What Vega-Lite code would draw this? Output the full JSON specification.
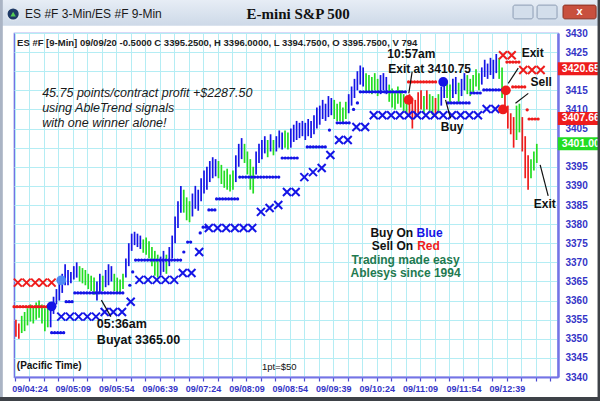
{
"$schema": "https://vega.github.io/schema/vega-lite/v6.json",
"width": 544, "height": 344,
"autosize": "none",
"padding": {"left": 14, "top": 33, "right": 42, "bottom": 24},
"background": "white",
"config": {"view": {"stroke": "#6464e0", "strokeWidth": 1.2}, "font": "Liberation Sans", "axis": {"labelOverlap": false}},
"datasets": {
"bars": [
{"t":250,"h":3355,"l":3350.5,"c":"r"},{"t":253,"h":3354,"l":3350,"c":"r"},{"t":256,"h":3356,"l":3351.5,"c":"g"},{"t":259,"h":3357,"l":3352,"c":"g"},
{"t":262,"h":3358,"l":3353.5,"c":"g"},{"t":265,"h":3359,"l":3354.5,"c":"g"},{"t":268,"h":3358.5,"l":3354,"c":"g"},{"t":271,"h":3359.5,"l":3355,"c":"g"},
{"t":274,"h":3360,"l":3355.5,"c":"g"},{"t":277,"h":3359,"l":3354,"c":"g"},{"t":280,"h":3358,"l":3352,"c":"g"},{"t":283,"h":3358.5,"l":3353,"c":"g"},
{"t":286,"h":3359,"l":3353,"c":"b"},{"t":289,"h":3361,"l":3356.5,"c":"b"},{"t":292,"h":3363,"l":3359,"c":"b"},{"t":295,"h":3364.5,"l":3360,"c":"b"},
{"t":298,"h":3367,"l":3362,"c":"b"},{"t":301,"h":3369.5,"l":3364,"c":"b"},{"t":304,"h":3368,"l":3364,"c":"b"},{"t":307,"h":3367.5,"l":3364.5,"c":"b"},
{"t":310,"h":3369,"l":3365.5,"c":"b"},{"t":313,"h":3370,"l":3366,"c":"b"},{"t":316,"h":3369,"l":3365,"c":"g"},{"t":319,"h":3368.5,"l":3364.5,"c":"g"},
{"t":322,"h":3368,"l":3364,"c":"g"},{"t":325,"h":3367,"l":3363,"c":"g"},{"t":328,"h":3366.5,"l":3362.5,"c":"g"},{"t":331,"h":3366,"l":3361.5,"c":"g"},
{"t":334,"h":3365,"l":3360,"c":"b"},{"t":337,"h":3367,"l":3362,"c":"b"},{"t":340,"h":3366.5,"l":3362.5,"c":"g"},{"t":343,"h":3368,"l":3363.5,"c":"b"},
{"t":346,"h":3369.5,"l":3364,"c":"b"},{"t":349,"h":3369,"l":3365,"c":"b"},{"t":352,"h":3367,"l":3362.5,"c":"g"},{"t":355,"h":3366,"l":3362,"c":"g"},
{"t":358,"h":3365.5,"l":3362,"c":"g"},{"t":361,"h":3367,"l":3363,"c":"g"},{"t":364,"h":3371,"l":3366,"c":"b"},{"t":367,"h":3375,"l":3369,"c":"b"},
{"t":370,"h":3377.5,"l":3373,"c":"b"},{"t":373,"h":3378,"l":3374.5,"c":"b"},{"t":376,"h":3377.5,"l":3374,"c":"b"},{"t":379,"h":3377,"l":3373.5,"c":"b"},
{"t":382,"h":3376,"l":3372.5,"c":"g"},{"t":385,"h":3376.5,"l":3372,"c":"g"},{"t":388,"h":3375.5,"l":3371,"c":"g"},{"t":391,"h":3374,"l":3369,"c":"g"},
{"t":394,"h":3373,"l":3366.5,"c":"g"},{"t":397,"h":3372,"l":3366,"c":"g"},{"t":400,"h":3371.5,"l":3366.5,"c":"b"},{"t":403,"h":3373,"l":3367.5,"c":"b"},
{"t":406,"h":3372,"l":3367,"c":"g"},{"t":409,"h":3374,"l":3369,"c":"b"},{"t":412,"h":3377,"l":3371,"c":"b"},{"t":415,"h":3382,"l":3375,"c":"b"},
{"t":418,"h":3386,"l":3379,"c":"b"},{"t":421,"h":3390,"l":3383,"c":"b"},{"t":424,"h":3389,"l":3383,"c":"g"},{"t":427,"h":3387,"l":3381,"c":"g"},
{"t":430,"h":3386,"l":3380.5,"c":"g"},{"t":433,"h":3388,"l":3382,"c":"b"},{"t":436,"h":3390,"l":3384,"c":"b"},{"t":439,"h":3389,"l":3383.5,"c":"b"},
{"t":442,"h":3392,"l":3386,"c":"b"},{"t":445,"h":3394,"l":3388,"c":"b"},{"t":448,"h":3395,"l":3389,"c":"b"},{"t":451,"h":3396.5,"l":3391,"c":"b"},
{"t":454,"h":3397.5,"l":3392,"c":"b"},{"t":457,"h":3397,"l":3392.5,"c":"b"},{"t":460,"h":3396.5,"l":3392,"c":"g"},{"t":463,"h":3395.5,"l":3390.5,"c":"g"},
{"t":466,"h":3394,"l":3389.5,"c":"g"},{"t":469,"h":3394.5,"l":3389,"c":"g"},{"t":472,"h":3393,"l":3388.5,"c":"g"},{"t":475,"h":3394,"l":3389,"c":"g"},
{"t":478,"h":3398,"l":3391,"c":"b"},{"t":481,"h":3401,"l":3395,"c":"b"},{"t":484,"h":3402.5,"l":3397,"c":"b"},{"t":487,"h":3401,"l":3396,"c":"g"},
{"t":490,"h":3399,"l":3393,"c":"g"},{"t":493,"h":3397,"l":3389,"c":"g"},{"t":496,"h":3395,"l":3388,"c":"g"},{"t":499,"h":3399,"l":3393,"c":"b"},
{"t":502,"h":3401,"l":3396,"c":"b"},{"t":505,"h":3402,"l":3397,"c":"b"},{"t":508,"h":3403,"l":3398.5,"c":"b"},{"t":511,"h":3402,"l":3397.5,"c":"g"},
{"t":514,"h":3403.5,"l":3399,"c":"b"},{"t":517,"h":3402,"l":3398,"c":"g"},{"t":520,"h":3403,"l":3399,"c":"b"},{"t":523,"h":3404.5,"l":3400,"c":"b"},
{"t":526,"h":3404,"l":3399.5,"c":"b"},{"t":529,"h":3404.5,"l":3400,"c":"g"},{"t":532,"h":3404,"l":3399.5,"c":"g"},{"t":535,"h":3405,"l":3400,"c":"b"},
{"t":538,"h":3406,"l":3401.5,"c":"b"},{"t":541,"h":3407,"l":3402,"c":"b"},{"t":544,"h":3406.5,"l":3402.5,"c":"b"},{"t":547,"h":3407,"l":3403,"c":"b"},
{"t":550,"h":3406.5,"l":3402,"c":"b"},{"t":553,"h":3407.5,"l":3403,"c":"b"},{"t":556,"h":3407,"l":3402.5,"c":"b"},{"t":559,"h":3408.5,"l":3403.5,"c":"b"},
{"t":562,"h":3410.5,"l":3405,"c":"b"},{"t":565,"h":3411,"l":3406,"c":"b"},{"t":568,"h":3412.5,"l":3407.5,"c":"b"},{"t":571,"h":3411.5,"l":3407,"c":"b"},
{"t":574,"h":3413.5,"l":3408,"c":"b"},{"t":577,"h":3413,"l":3408.5,"c":"b"},{"t":580,"h":3412.5,"l":3407.5,"c":"g"},{"t":583,"h":3411.5,"l":3407,"c":"g"},
{"t":586,"h":3412,"l":3407,"c":"g"},{"t":589,"h":3410.5,"l":3406.5,"c":"g"},{"t":592,"h":3412,"l":3407.5,"c":"g"},{"t":595,"h":3414,"l":3409,"c":"b"},
{"t":598,"h":3416,"l":3411,"c":"b"},{"t":601,"h":3418,"l":3413,"c":"b"},{"t":604,"h":3420,"l":3415,"c":"b"},{"t":607,"h":3421.5,"l":3416.5,"c":"b"},
{"t":610,"h":3421,"l":3416,"c":"b"},{"t":613,"h":3419.5,"l":3414.5,"c":"g"},{"t":616,"h":3419,"l":3414.5,"c":"g"},{"t":619,"h":3418.5,"l":3414,"c":"g"},
{"t":622,"h":3419.5,"l":3415,"c":"g"},{"t":625,"h":3418,"l":3413.5,"c":"g"},{"t":628,"h":3419,"l":3414,"c":"b"},{"t":631,"h":3419.5,"l":3415,"c":"b"},
{"t":634,"h":3418.5,"l":3414,"c":"b"},{"t":637,"h":3416.5,"l":3412,"c":"g"},{"t":640,"h":3415.5,"l":3410.5,"c":"g"},{"t":643,"h":3414.5,"l":3410,"c":"g"},
{"t":646,"h":3416,"l":3411.5,"c":"g"},{"t":649,"h":3415,"l":3410.5,"c":"g"},{"t":652,"h":3414,"l":3409.5,"c":"g"},{"t":655,"h":3413,"l":3409,"c":"g"},
{"t":658,"h":3414,"l":3408,"c":"r"},{"t":661,"h":3413,"l":3405,"c":"r"},{"t":664,"h":3412.5,"l":3408,"c":"r"},{"t":667,"h":3414.5,"l":3409,"c":"r"},
{"t":670,"h":3415,"l":3410,"c":"r"},{"t":673,"h":3413.5,"l":3409,"c":"g"},{"t":676,"h":3415,"l":3410,"c":"r"},{"t":679,"h":3414,"l":3409.5,"c":"g"},
{"t":682,"h":3413.5,"l":3408.5,"c":"g"},{"t":685,"h":3413,"l":3408,"c":"r"},{"t":688,"h":3414,"l":3409,"c":"g"},{"t":691,"h":3416,"l":3411,"c":"b"},
{"t":694,"h":3418,"l":3413,"c":"b"},{"t":697,"h":3417.5,"l":3413,"c":"g"},{"t":700,"h":3416.5,"l":3411.5,"c":"g"},{"t":703,"h":3418,"l":3413,"c":"b"},
{"t":706,"h":3418.5,"l":3414,"c":"b"},{"t":709,"h":3417,"l":3412,"c":"g"},{"t":712,"h":3418,"l":3413.5,"c":"b"},{"t":715,"h":3419.5,"l":3415,"c":"b"},
{"t":718,"h":3419,"l":3414,"c":"g"},{"t":721,"h":3418,"l":3413.5,"c":"g"},{"t":724,"h":3419,"l":3414.5,"c":"g"},{"t":727,"h":3420.5,"l":3416,"c":"g"},
{"t":730,"h":3419.5,"l":3415,"c":"g"},{"t":733,"h":3421,"l":3416.5,"c":"b"},{"t":736,"h":3423,"l":3418.5,"c":"b"},{"t":739,"h":3422,"l":3418,"c":"b"},
{"t":742,"h":3423.5,"l":3419,"c":"b"},{"t":745,"h":3423,"l":3418,"c":"b"},{"t":748,"h":3424.5,"l":3419.5,"c":"b"},{"t":751,"h":3423.5,"l":3418,"c":"g"},
{"t":754,"h":3421,"l":3413,"c":"g"},{"t":757,"h":3416,"l":3409.5,"c":"r"},{"t":760,"h":3411,"l":3405,"c":"r"},{"t":763,"h":3409,"l":3403.5,"c":"r"},
{"t":766,"h":3408,"l":3400,"c":"r"},{"t":769,"h":3411,"l":3402,"c":"g"},{"t":772,"h":3411.5,"l":3404,"c":"g"},{"t":775,"h":3408,"l":3399,"c":"r"},
{"t":778,"h":3403,"l":3392,"c":"r"},{"t":781,"h":3398,"l":3389,"c":"r"},{"t":784,"h":3397,"l":3392,"c":"g"},{"t":787,"h":3399,"l":3394,"c":"g"},
{"t":790,"h":3401,"l":3396,"c":"g"}
],
"stops": [
{"t1":248,"t2":286,"p":3358.4,"c":"r"},{"t1":287,"t2":300,"p":3351.6,"c":"b"},{"t1":302,"t2":310,"p":3359.7,"c":"b"},{"t1":311,"t2":362,"p":3362,"c":"b"},
{"t1":368,"t2":369,"p":3364,"c":"b"},{"t1":371,"t2":372,"p":3367.5,"c":"b"},{"t1":374,"t2":421,"p":3370.6,"c":"b"},{"t1":424,"t2":425,"p":3372.7,"c":"b"},
{"t1":428,"t2":433,"p":3375.3,"c":"b"},{"t1":441,"t2":442,"p":3377.7,"c":"b"},{"t1":444,"t2":449,"p":3379.2,"c":"b"},{"t1":450,"t2":457,"p":3383.7,"c":"b"},
{"t1":458,"t2":481,"p":3386.6,"c":"b"},{"t1":482,"t2":524,"p":3392.3,"c":"b"},{"t1":526,"t2":544,"p":3397.3,"c":"b"},{"t1":552,"t2":571,"p":3400.2,"c":"b"},
{"t1":575,"t2":576,"p":3404.6,"c":"b"},{"t1":583,"t2":598,"p":3406.5,"c":"b"},{"t1":600,"t2":601,"p":3410,"c":"b"},{"t1":604,"t2":605,"p":3411.7,"c":"b"},
{"t1":607,"t2":656,"p":3414.6,"c":"b"},{"t1":657,"t2":687,"p":3417.2,"c":"r"},{"t1":698,"t2":721,"p":3411.7,"c":"b"},{"t1":722,"t2":734,"p":3414.3,"c":"b"},
{"t1":735,"t2":759,"p":3415.1,"c":"b"},{"t1":759,"t2":773,"p":3422.4,"c":"r"},{"t1":765,"t2":779,"p":3415.9,"c":"r"},{"t1":780,"t2":781,"p":3409.9,"c":"r"},
{"t1":782,"t2":793,"p":3407.5,"c":"r"}
],
"xs": [
{"t":252,"p":3364.7,"c":"r"},{"t":261,"p":3364.7,"c":"r"},{"t":270,"p":3364.7,"c":"r"},{"t":278,"p":3364.7,"c":"r"},{"t":287,"p":3364.7,"c":"r"},
{"t":297,"p":3355.8,"c":"b"},{"t":306,"p":3355.8,"c":"b"},{"t":315,"p":3355.8,"c":"b"},{"t":324,"p":3355.8,"c":"b"},{"t":333,"p":3355.8,"c":"b"},
{"t":342,"p":3357,"c":"b"},{"t":351,"p":3357,"c":"b"},{"t":360,"p":3357,"c":"b"},{"t":369,"p":3359.7,"c":"b"},
{"t":378,"p":3365.4,"c":"b"},{"t":387,"p":3365.4,"c":"b"},{"t":396,"p":3365.4,"c":"b"},{"t":405,"p":3365.4,"c":"b"},{"t":414,"p":3365.4,"c":"b"},
{"t":423,"p":3367.2,"c":"b"},{"t":432,"p":3367.2,"c":"b"},{"t":440,"p":3372.7,"c":"b"},
{"t":450,"p":3379,"c":"b"},{"t":459,"p":3379,"c":"b"},{"t":468,"p":3379,"c":"b"},{"t":477,"p":3379,"c":"b"},{"t":486,"p":3379,"c":"b"},{"t":495,"p":3379,"c":"b"},
{"t":504,"p":3383.2,"c":"b"},{"t":513,"p":3384.2,"c":"b"},{"t":522,"p":3385,"c":"b"},{"t":531,"p":3388.4,"c":"b"},{"t":540,"p":3388.4,"c":"b"},
{"t":549,"p":3392.3,"c":"b"},{"t":558,"p":3393.6,"c":"b"},{"t":567,"p":3394.7,"c":"b"},{"t":576,"p":3398.1,"c":"b"},
{"t":585,"p":3402,"c":"b"},{"t":594,"p":3402,"c":"b"},{"t":603,"p":3405.4,"c":"b"},{"t":612,"p":3405.4,"c":"b"},
{"t":621,"p":3408.5,"c":"b"},{"t":630,"p":3408.5,"c":"b"},{"t":639,"p":3408.5,"c":"b"},{"t":648,"p":3408.5,"c":"b"},{"t":657,"p":3408.5,"c":"b"},
{"t":666,"p":3408.5,"c":"b"},{"t":675,"p":3408.5,"c":"b"},{"t":684,"p":3408.5,"c":"b"},{"t":693,"p":3408.5,"c":"b"},{"t":702,"p":3408.5,"c":"b"},
{"t":711,"p":3408.5,"c":"b"},{"t":720,"p":3408.5,"c":"b"},{"t":729,"p":3408.5,"c":"b"},{"t":738,"p":3410.1,"c":"b"},{"t":747,"p":3410.1,"c":"b"},
{"t":755,"p":3424.2,"c":"r"},{"t":764,"p":3424.2,"c":"r"},{"t":776,"p":3420.3,"c":"r"},{"t":785,"p":3420.3,"c":"r"},{"t":794,"p":3420.3,"c":"r"}
],
"sigs": [
{"t":287,"p":3358.5,"c":"b"},{"t":297,"p":3365.3,"c":"lb"},{"t":657,"p":3412.5,"c":"r"},{"t":693,"p":3417.2,"c":"b"},{"t":758,"p":3415,"c":"r"},{"t":755,"p":3410,"c":"r"}
],
"arrows": [
{"t1":660.8,"p1":3419.9,"t2":657.3,"p2":3414.2},{"t1":700.6,"p1":3407.7,"t2":695.4,"p2":3412.5},{"t1":781.2,"p1":3414.2,"t2":767.9,"p2":3411.6},
{"t1":770.8,"p1":3420.8,"t2":760.4,"p2":3416.8},{"t1":801.8,"p1":3387.4,"t2":793.5,"p2":3395.5},{"t1":348.4,"p1":3355.8,"t2":338.6,"p2":3360.1}
],
"notes": [
{"g":"hdr","t":251.2,"p":3427.3,"s":"ES #F [9-Min] 09/09/20  -0.5000 C 3395.2500, H 3396.0000, L 3394.7500, O 3395.7500, V 794"},
{"g":"it","t":277.2,"p":3414.4,"s":"45.75 points/contract profit +$2287.50"},
{"g":"it","t":277.2,"p":3410.3,"s":"using AbleTrend signals"},
{"g":"it","t":277.2,"p":3406.5,"s":"with one winner alone!"},
{"g":"bc","t":660,"p":3424.4,"s":"10:57am"},
{"g":"bc","t":678.9,"p":3420.7,"s":"Exit at 3410.75"},
{"g":"bc","t":785.7,"p":3424.8,"s":"Exit"},
{"g":"bc","t":794.6,"p":3417.3,"s":"Sell"},
{"g":"bc","t":702.3,"p":3405.4,"s":"Buy"},
{"g":"bc","t":798.3,"p":3385.3,"s":"Exit"},
{"g":"bl","t":333.9,"p":3353.9,"s":"05:36am"},
{"g":"bl","t":333.9,"p":3349.7,"s":"Buyat 3365.00"},
{"g":"br","t":661.8,"p":3377.75,"s":"Buy On"},
{"g":"br","t":661.8,"p":3374.3,"s":"Sell On"},
{"g":"bcol","t":665.4,"p":3377.75,"s":"Blue","c":"b"},
{"g":"bcol","t":666,"p":3374.3,"s":"Red","c":"r"},
{"g":"gr","t":654,"p":3370.6,"s":"Trading made easy"},
{"g":"gr","t":654,"p":3367.2,"s":"Ablesys since 1994"},
{"g":"pt","t":250.9,"p":3343,"s":"(Pacific Time)"},
{"g":"sm","t":523,"p":3342.6,"s":"1pt=$50"}
],
"tags": [
{"p":3420.65,"s":"3420.65","c":"r"},{"p":3407.66,"s":"3407.66","c":"r"},{"p":3401.0,"s":"3401.00","c":"g"}
]
},
"layer": [
{"data": {"name": "bars"},
 "mark": {"type": "rule", "strokeWidth": 1.7},
 "encoding": {
  "x": {"field": "t", "type": "quantitative", "scale": {"domain": [248, 812], "nice": false, "zero": false},
   "axis": {"title": null, "tickCount": 500, "values": [249,264,279,294,309,324,339,354,369,384,399,414,429,444,459,474,489,504,519,534,549,564,579,594,609,624,639,654,669,684,699,714,729,744,759,774,789,804],
    "labelExpr": "((datum.value - 264) % 45 == 0 && datum.value < 800) ? '09/' + pad('' + floor(datum.value / 60), 2, '0', 'left') + ':' + pad('' + (datum.value % 60), 2, '0', 'left') : ''",
    "labelFont": "Liberation Sans", "labelFontSize": 9, "labelFontWeight": "bold", "labelColor": "#3434c6", "labelPadding": 3,
    "labelOverlap": false, "labelFlush": false, "labelBound": false,
    "tickColor": "#4a4ad0", "tickSize": 4, "tickWidth": 1.2,
    "domainColor": "#7474e6", "domainWidth": 2,
    "grid": true, "gridColor": "#b4edf4", "gridWidth": 1}},
  "y": {"field": "l", "type": "quantitative", "scale": {"domain": [3340, 3430], "nice": false, "zero": false},
   "axis": {"title": null, "orient": "right", "format": "d", "tickCount": 500, "values": [3340,3345,3350,3355,3360,3365,3370,3375,3380,3385,3390,3395,3400,3405,3410,3415,3420,3425,3430],
    "labelExpr": "(datum.value == 3420 || datum.value == 3400) ? '' : datum.label",
    "labelOverlap": false, "labelBound": false, "labelFlush": false,
    "labelFont": "Liberation Sans", "labelFontSize": 10, "labelFontWeight": "bold", "labelColor": "#3434c6", "labelPadding": 7,
    "ticks": false, "domainColor": "#7474e6", "domainWidth": 2.5,
    "grid": true, "gridColor": "#b4edf4", "gridWidth": 1}},
  "y2": {"field": "h"},
  "color": {"field": "c", "type": "nominal", "legend": null,
   "scale": {"domain": ["b", "g", "r", "lb"], "range": ["#1414e6", "#22dd22", "#ee1c1c", "#4f8cf5"]}}
 }},
{"data": {"name": "stops"},
 "mark": {"type": "rule", "strokeWidth": 3.2, "strokeCap": "round", "strokeDash": [0.1, 2.9]},
 "encoding": {
  "x": {"field": "t1", "type": "quantitative"}, "x2": {"field": "t2"},
  "y": {"field": "p", "type": "quantitative"},
  "color": {"field": "c", "type": "nominal", "legend": null}
 }},
{"data": {"name": "xs"},
 "mark": {"type": "point", "shape": "M-1,-1L1,1M1,-1L-1,1", "filled": false, "strokeWidth": 2, "size": 64, "opacity": 1},
 "encoding": {
  "x": {"field": "t", "type": "quantitative"},
  "y": {"field": "p", "type": "quantitative"},
  "color": {"field": "c", "type": "nominal", "legend": null}
 }},
{"data": {"name": "sigs"},
 "mark": {"type": "circle", "size": 95, "opacity": 1},
 "encoding": {
  "x": {"field": "t", "type": "quantitative"},
  "y": {"field": "p", "type": "quantitative"},
  "color": {"field": "c", "type": "nominal", "legend": null}
 }},
{"data": {"name": "arrows"},
 "mark": {"type": "rule", "color": "#111111", "strokeWidth": 1.2},
 "encoding": {
  "x": {"field": "t1", "type": "quantitative"}, "x2": {"field": "t2"},
  "y": {"field": "p1", "type": "quantitative"}, "y2": {"field": "p2"}
 }},
{"data": {"name": "notes"}, "transform": [{"filter": "datum.g == 'hdr'"}],
 "mark": {"type": "text", "align": "left", "baseline": "middle", "font": "Liberation Sans", "fontSize": 9.5, "fontWeight": "bold", "color": "#222222"},
 "encoding": {"x": {"field": "t", "type": "quantitative"}, "y": {"field": "p", "type": "quantitative"}, "text": {"field": "s"}}},
{"data": {"name": "notes"}, "transform": [{"filter": "datum.g == 'it'"}],
 "mark": {"type": "text", "align": "left", "baseline": "middle", "font": "Liberation Sans", "fontSize": 12.5, "fontStyle": "italic", "color": "#1a1a1a"},
 "encoding": {"x": {"field": "t", "type": "quantitative"}, "y": {"field": "p", "type": "quantitative"}, "text": {"field": "s"}}},
{"data": {"name": "notes"}, "transform": [{"filter": "datum.g == 'bc'"}],
 "mark": {"type": "text", "align": "center", "baseline": "middle", "font": "Liberation Sans", "fontSize": 12, "fontWeight": "bold", "color": "#111111"},
 "encoding": {"x": {"field": "t", "type": "quantitative"}, "y": {"field": "p", "type": "quantitative"}, "text": {"field": "s"}}},
{"data": {"name": "notes"}, "transform": [{"filter": "datum.g == 'bl'"}],
 "mark": {"type": "text", "align": "left", "baseline": "middle", "font": "Liberation Sans", "fontSize": 12.5, "fontWeight": "bold", "color": "#111111"},
 "encoding": {"x": {"field": "t", "type": "quantitative"}, "y": {"field": "p", "type": "quantitative"}, "text": {"field": "s"}}},
{"data": {"name": "notes"}, "transform": [{"filter": "datum.g == 'br'"}],
 "mark": {"type": "text", "align": "right", "baseline": "middle", "font": "Liberation Sans", "fontSize": 12, "fontWeight": "bold", "color": "#111111"},
 "encoding": {"x": {"field": "t", "type": "quantitative"}, "y": {"field": "p", "type": "quantitative"}, "text": {"field": "s"}}},
{"data": {"name": "notes"}, "transform": [{"filter": "datum.g == 'bcol'"}],
 "mark": {"type": "text", "align": "left", "baseline": "middle", "font": "Liberation Sans", "fontSize": 12, "fontWeight": "bold"},
 "encoding": {"x": {"field": "t", "type": "quantitative"}, "y": {"field": "p", "type": "quantitative"}, "text": {"field": "s"},
  "color": {"field": "c", "type": "nominal", "legend": null}}},
{"data": {"name": "notes"}, "transform": [{"filter": "datum.g == 'gr'"}],
 "mark": {"type": "text", "align": "center", "baseline": "middle", "font": "Liberation Sans", "fontSize": 12, "fontWeight": "bold", "color": "#1f7a50"},
 "encoding": {"x": {"field": "t", "type": "quantitative"}, "y": {"field": "p", "type": "quantitative"}, "text": {"field": "s"}}},
{"data": {"name": "notes"}, "transform": [{"filter": "datum.g == 'pt'"}],
 "mark": {"type": "text", "align": "left", "baseline": "middle", "font": "Liberation Sans", "fontSize": 10, "fontWeight": "bold", "color": "#111111"},
 "encoding": {"x": {"field": "t", "type": "quantitative"}, "y": {"field": "p", "type": "quantitative"}, "text": {"field": "s"}}},
{"data": {"name": "notes"}, "transform": [{"filter": "datum.g == 'sm'"}],
 "mark": {"type": "text", "align": "center", "baseline": "middle", "font": "Liberation Sans", "fontSize": 9.5, "color": "#111111"},
 "encoding": {"x": {"field": "t", "type": "quantitative"}, "y": {"field": "p", "type": "quantitative"}, "text": {"field": "s"}}},
{"data": {"name": "tags"},
 "mark": {"type": "rect", "yOffset": -6.5, "y2Offset": 6.5},
 "encoding": {
  "x": {"datum": 811.8, "type": "quantitative"}, "x2": {"datum": 875},
  "y": {"field": "p", "type": "quantitative"}, "y2": {"field": "p"},
  "color": {"field": "c", "type": "nominal", "legend": null}
 }},
{"data": {"name": "tags"},
 "mark": {"type": "text", "align": "left", "baseline": "middle", "font": "Liberation Sans", "fontSize": 10.5, "fontWeight": "bold", "color": "white"},
 "encoding": {"x": {"datum": 816, "type": "quantitative"}, "y": {"field": "p", "type": "quantitative"}, "text": {"field": "s"}}},
{"data": {"values": [{}]},
 "mark": {"type": "rect", "color": {"gradient": "linear", "x1": 0, "y1": 0, "x2": 0, "y2": 1, "stops": [{"offset": 0, "color": "#e8eef6"}, {"offset": 1, "color": "#cdd9e8"}]}},
 "encoding": {
  "x": {"datum": 233, "type": "quantitative"}, "x2": {"datum": 875},
  "y": {"datum": 3439, "type": "quantitative"}, "y2": {"datum": 3431.9}
 }},
{"data": {"values": [{}]},
 "mark": {"type": "rect", "color": "#3e4248"},
 "encoding": {
  "x": {"datum": 233, "type": "quantitative"}, "x2": {"datum": 875},
  "y": {"datum": 3334.8, "type": "quantitative"}, "y2": {"datum": 3330}
 }},
{"data": {"values": [{}]},
 "mark": {"type": "rect", "color": "#aab4c4"},
 "encoding": {
  "x": {"datum": 233, "type": "quantitative"}, "x2": {"datum": 236.4},
  "y": {"datum": 3439, "type": "quantitative"}, "y2": {"datum": 3334.8}
 }},
{"data": {"values": [{}]},
 "mark": {"type": "rect", "color": "#3e4248"},
 "encoding": {
  "x": {"datum": 853, "type": "quantitative"}, "x2": {"datum": 875},
  "y": {"datum": 3439, "type": "quantitative"}, "y2": {"datum": 3330}
 }},
{"data": {"values": [{}]},
 "mark": {"type": "rect", "color": "#d3deeb", "stroke": "#8d9db4", "strokeWidth": 1, "cornerRadius": 2},
 "encoding": {
  "x": {"datum": 765.4, "type": "quantitative"}, "x2": {"datum": 786.1},
  "y": {"datum": 3437.3, "type": "quantitative"}, "y2": {"datum": 3433.7}
 }},
{"data": {"values": [{}]},
 "mark": {"type": "rect", "color": "#d3deeb", "stroke": "#8d9db4", "strokeWidth": 1, "cornerRadius": 2},
 "encoding": {
  "x": {"datum": 790.3, "type": "quantitative"}, "x2": {"datum": 811},
  "y": {"datum": 3437.3, "type": "quantitative"}, "y2": {"datum": 3433.7}
 }},
{"data": {"values": [{}]},
 "mark": {"type": "rect", "color": "#c8503e", "stroke": "#8a3020", "strokeWidth": 1, "cornerRadius": 2},
 "encoding": {
  "x": {"datum": 817.2, "type": "quantitative"}, "x2": {"datum": 851.5},
  "y": {"datum": 3437.3, "type": "quantitative"}, "y2": {"datum": 3433.7}
 }},
{"data": {"values": [{}]},
 "mark": {"type": "text", "align": "center", "baseline": "middle", "font": "Liberation Sans", "fontSize": 11, "fontWeight": "bold", "color": "white"},
 "encoding": {"x": {"datum": 834.3, "type": "quantitative"}, "y": {"datum": 3435.5, "type": "quantitative"}, "text": {"value": "x"}}},
{"data": {"values": [{}]},
 "mark": {"type": "text", "align": "left", "baseline": "middle", "font": "Liberation Sans", "fontSize": 12, "color": "#1a1a1a"},
 "encoding": {"x": {"datum": 259.5, "type": "quantitative"}, "y": {"datum": 3434.97, "type": "quantitative"}, "text": {"value": "ES #F 3-Min/ES #F 9-Min"}}},
{"data": {"values": [{}]},
 "mark": {"type": "text", "align": "center", "baseline": "middle", "font": "Liberation Serif", "fontSize": 15, "fontWeight": "bold", "color": "#111111"},
 "encoding": {"x": {"datum": 542.6, "type": "quantitative"}, "y": {"datum": 3434.97, "type": "quantitative"}, "text": {"value": "E-mini S&P 500"}}},
{"data": {"values": [{}]},
 "mark": {"type": "point", "shape": "circle", "filled": true, "size": 160, "color": "#1f3a66", "stroke": "#e0e8f0", "strokeWidth": 1.5, "opacity": 1},
 "encoding": {"x": {"datum": 247.1, "type": "quantitative"}, "y": {"datum": 3434.97, "type": "quantitative"}}},
{"data": {"values": [{}]},
 "mark": {"type": "point", "shape": "triangle-up", "filled": true, "size": 30, "color": "#55cc55", "opacity": 1},
 "encoding": {"x": {"datum": 247.1, "type": "quantitative"}, "y": {"datum": 3434.97, "type": "quantitative"}}}
]
}
